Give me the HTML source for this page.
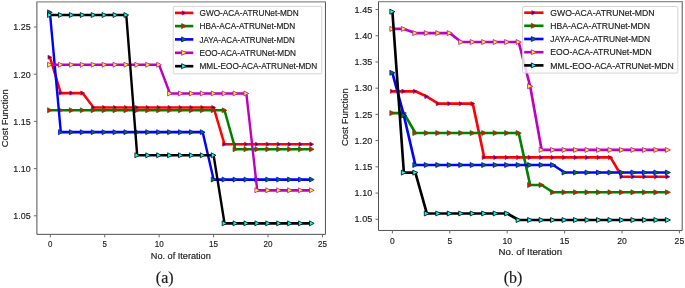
<!DOCTYPE html>
<html><head><meta charset="utf-8"><title>Cost function vs iteration</title>
<style>
html,body{margin:0;padding:0;background:#fff;}
body{width:685px;height:288px;overflow:hidden;}
svg{display:block}
svg text{font-family:"Liberation Sans",sans-serif;font-size:9.50px;fill:#1c1c1c;stroke:#1c1c1c;stroke-width:0.18px}
</style></head><body>
<svg width="685" height="288" viewBox="0 0 685 288">
<rect width="685" height="288" fill="#fff"/>
<g opacity="0.999">
<clipPath id="clip36"><rect x="36.90" y="1.85" width="288.55" height="232.50"/></clipPath>
<g clip-path="url(#clip36)"><g transform="scale(0.920,1)">
<polyline points="54.24,57.21 66.10,93.08 77.96,93.08 89.83,93.08 101.69,107.52 113.55,107.52 125.41,107.52 137.27,107.52 149.13,107.52 161.00,107.52 172.86,107.52 184.72,107.52 196.58,107.52 208.44,107.52 220.31,107.52 232.17,107.52 244.03,144.24 255.89,144.24 267.75,144.24 279.62,144.24 291.48,144.24 303.34,144.24 315.20,144.24 327.06,144.24 338.93,144.24" fill="none" stroke="#ff0000" stroke-width="2.65" stroke-linejoin="round" stroke-linecap="butt"/>
<path d="M52.20 55.21L56.28 57.21L52.20 59.21Z" fill="#0000ff" stroke="#ff0000" stroke-width="0.80" stroke-linejoin="miter"/>
<path d="M64.06 91.08L68.14 93.08L64.06 95.08Z" fill="#0000ff" stroke="#ff0000" stroke-width="0.80" stroke-linejoin="miter"/>
<path d="M75.92 91.08L80.00 93.08L75.92 95.08Z" fill="#0000ff" stroke="#ff0000" stroke-width="0.80" stroke-linejoin="miter"/>
<path d="M87.78 91.08L91.87 93.08L87.78 95.08Z" fill="#0000ff" stroke="#ff0000" stroke-width="0.80" stroke-linejoin="miter"/>
<path d="M99.65 105.52L103.73 107.52L99.65 109.52Z" fill="#0000ff" stroke="#ff0000" stroke-width="0.80" stroke-linejoin="miter"/>
<path d="M111.51 105.52L115.59 107.52L111.51 109.52Z" fill="#0000ff" stroke="#ff0000" stroke-width="0.80" stroke-linejoin="miter"/>
<path d="M123.37 105.52L127.45 107.52L123.37 109.52Z" fill="#0000ff" stroke="#ff0000" stroke-width="0.80" stroke-linejoin="miter"/>
<path d="M135.23 105.52L139.31 107.52L135.23 109.52Z" fill="#0000ff" stroke="#ff0000" stroke-width="0.80" stroke-linejoin="miter"/>
<path d="M147.09 105.52L151.17 107.52L147.09 109.52Z" fill="#0000ff" stroke="#ff0000" stroke-width="0.80" stroke-linejoin="miter"/>
<path d="M158.96 105.52L163.04 107.52L158.96 109.52Z" fill="#0000ff" stroke="#ff0000" stroke-width="0.80" stroke-linejoin="miter"/>
<path d="M170.82 105.52L174.90 107.52L170.82 109.52Z" fill="#0000ff" stroke="#ff0000" stroke-width="0.80" stroke-linejoin="miter"/>
<path d="M182.68 105.52L186.76 107.52L182.68 109.52Z" fill="#0000ff" stroke="#ff0000" stroke-width="0.80" stroke-linejoin="miter"/>
<path d="M194.54 105.52L198.62 107.52L194.54 109.52Z" fill="#0000ff" stroke="#ff0000" stroke-width="0.80" stroke-linejoin="miter"/>
<path d="M206.40 105.52L210.48 107.52L206.40 109.52Z" fill="#0000ff" stroke="#ff0000" stroke-width="0.80" stroke-linejoin="miter"/>
<path d="M218.27 105.52L222.35 107.52L218.27 109.52Z" fill="#0000ff" stroke="#ff0000" stroke-width="0.80" stroke-linejoin="miter"/>
<path d="M230.13 105.52L234.21 107.52L230.13 109.52Z" fill="#0000ff" stroke="#ff0000" stroke-width="0.80" stroke-linejoin="miter"/>
<path d="M241.99 142.24L246.07 144.24L241.99 146.24Z" fill="#0000ff" stroke="#ff0000" stroke-width="0.80" stroke-linejoin="miter"/>
<path d="M253.85 142.24L257.93 144.24L253.85 146.24Z" fill="#0000ff" stroke="#ff0000" stroke-width="0.80" stroke-linejoin="miter"/>
<path d="M265.71 142.24L269.79 144.24L265.71 146.24Z" fill="#0000ff" stroke="#ff0000" stroke-width="0.80" stroke-linejoin="miter"/>
<path d="M277.58 142.24L281.66 144.24L277.58 146.24Z" fill="#0000ff" stroke="#ff0000" stroke-width="0.80" stroke-linejoin="miter"/>
<path d="M289.44 142.24L293.52 144.24L289.44 146.24Z" fill="#0000ff" stroke="#ff0000" stroke-width="0.80" stroke-linejoin="miter"/>
<path d="M301.30 142.24L305.38 144.24L301.30 146.24Z" fill="#0000ff" stroke="#ff0000" stroke-width="0.80" stroke-linejoin="miter"/>
<path d="M313.16 142.24L317.24 144.24L313.16 146.24Z" fill="#0000ff" stroke="#ff0000" stroke-width="0.80" stroke-linejoin="miter"/>
<path d="M325.02 142.24L329.10 144.24L325.02 146.24Z" fill="#0000ff" stroke="#ff0000" stroke-width="0.80" stroke-linejoin="miter"/>
<path d="M336.89 142.24L340.97 144.24L336.89 146.24Z" fill="#0000ff" stroke="#ff0000" stroke-width="0.80" stroke-linejoin="miter"/>
<polyline points="54.24,110.26 66.10,110.26 77.96,110.26 89.83,110.26 101.69,110.26 113.55,110.26 125.41,110.26 137.27,110.26 149.13,110.26 161.00,110.26 172.86,110.26 184.72,110.26 196.58,110.26 208.44,110.26 220.31,110.26 232.17,110.26 244.03,110.26 255.89,149.25 267.75,149.25 279.62,149.25 291.48,149.25 303.34,149.25 315.20,149.25 327.06,149.25 338.93,149.25" fill="none" stroke="#008000" stroke-width="2.65" stroke-linejoin="round" stroke-linecap="butt"/>
<path d="M51.69 107.76L56.79 110.26L51.69 112.76Z" fill="#ff0000" stroke="#008000" stroke-width="0.80" stroke-linejoin="miter"/>
<path d="M63.55 107.76L68.65 110.26L63.55 112.76Z" fill="#ff0000" stroke="#008000" stroke-width="0.80" stroke-linejoin="miter"/>
<path d="M75.41 107.76L80.51 110.26L75.41 112.76Z" fill="#ff0000" stroke="#008000" stroke-width="0.80" stroke-linejoin="miter"/>
<path d="M87.28 107.76L92.38 110.26L87.28 112.76Z" fill="#ff0000" stroke="#008000" stroke-width="0.80" stroke-linejoin="miter"/>
<path d="M99.14 107.76L104.24 110.26L99.14 112.76Z" fill="#ff0000" stroke="#008000" stroke-width="0.80" stroke-linejoin="miter"/>
<path d="M111.00 107.76L116.10 110.26L111.00 112.76Z" fill="#ff0000" stroke="#008000" stroke-width="0.80" stroke-linejoin="miter"/>
<path d="M122.86 107.76L127.96 110.26L122.86 112.76Z" fill="#ff0000" stroke="#008000" stroke-width="0.80" stroke-linejoin="miter"/>
<path d="M134.72 107.76L139.82 110.26L134.72 112.76Z" fill="#ff0000" stroke="#008000" stroke-width="0.80" stroke-linejoin="miter"/>
<path d="M146.58 107.76L151.68 110.26L146.58 112.76Z" fill="#ff0000" stroke="#008000" stroke-width="0.80" stroke-linejoin="miter"/>
<path d="M158.45 107.76L163.55 110.26L158.45 112.76Z" fill="#ff0000" stroke="#008000" stroke-width="0.80" stroke-linejoin="miter"/>
<path d="M170.31 107.76L175.41 110.26L170.31 112.76Z" fill="#ff0000" stroke="#008000" stroke-width="0.80" stroke-linejoin="miter"/>
<path d="M182.17 107.76L187.27 110.26L182.17 112.76Z" fill="#ff0000" stroke="#008000" stroke-width="0.80" stroke-linejoin="miter"/>
<path d="M194.03 107.76L199.13 110.26L194.03 112.76Z" fill="#ff0000" stroke="#008000" stroke-width="0.80" stroke-linejoin="miter"/>
<path d="M205.89 107.76L210.99 110.26L205.89 112.76Z" fill="#ff0000" stroke="#008000" stroke-width="0.80" stroke-linejoin="miter"/>
<path d="M217.76 107.76L222.86 110.26L217.76 112.76Z" fill="#ff0000" stroke="#008000" stroke-width="0.80" stroke-linejoin="miter"/>
<path d="M229.62 107.76L234.72 110.26L229.62 112.76Z" fill="#ff0000" stroke="#008000" stroke-width="0.80" stroke-linejoin="miter"/>
<path d="M241.48 107.76L246.58 110.26L241.48 112.76Z" fill="#ff0000" stroke="#008000" stroke-width="0.80" stroke-linejoin="miter"/>
<path d="M253.34 146.75L258.44 149.25L253.34 151.75Z" fill="#ff0000" stroke="#008000" stroke-width="0.80" stroke-linejoin="miter"/>
<path d="M265.20 146.75L270.30 149.25L265.20 151.75Z" fill="#ff0000" stroke="#008000" stroke-width="0.80" stroke-linejoin="miter"/>
<path d="M277.07 146.75L282.17 149.25L277.07 151.75Z" fill="#ff0000" stroke="#008000" stroke-width="0.80" stroke-linejoin="miter"/>
<path d="M288.93 146.75L294.03 149.25L288.93 151.75Z" fill="#ff0000" stroke="#008000" stroke-width="0.80" stroke-linejoin="miter"/>
<path d="M300.79 146.75L305.89 149.25L300.79 151.75Z" fill="#ff0000" stroke="#008000" stroke-width="0.80" stroke-linejoin="miter"/>
<path d="M312.65 146.75L317.75 149.25L312.65 151.75Z" fill="#ff0000" stroke="#008000" stroke-width="0.80" stroke-linejoin="miter"/>
<path d="M324.51 146.75L329.61 149.25L324.51 151.75Z" fill="#ff0000" stroke="#008000" stroke-width="0.80" stroke-linejoin="miter"/>
<path d="M336.38 146.75L341.48 149.25L336.38 151.75Z" fill="#ff0000" stroke="#008000" stroke-width="0.80" stroke-linejoin="miter"/>
<polyline points="54.24,12.37 66.10,132.16 77.96,132.16 89.83,132.16 101.69,132.16 113.55,132.16 125.41,132.16 137.27,132.16 149.13,132.16 161.00,132.16 172.86,132.16 184.72,132.16 196.58,132.16 208.44,132.16 220.31,132.16 232.17,179.55 244.03,179.55 255.89,179.55 267.75,179.55 279.62,179.55 291.48,179.55 303.34,179.55 315.20,179.55 327.06,179.55 338.93,179.55" fill="none" stroke="#0000ff" stroke-width="2.65" stroke-linejoin="round" stroke-linecap="butt"/>
<path d="M51.69 9.87L56.79 12.37L51.69 14.87Z" fill="#008000" stroke="#0000ff" stroke-width="0.80" stroke-linejoin="miter"/>
<path d="M63.55 129.66L68.65 132.16L63.55 134.66Z" fill="#008000" stroke="#0000ff" stroke-width="0.80" stroke-linejoin="miter"/>
<path d="M75.41 129.66L80.51 132.16L75.41 134.66Z" fill="#008000" stroke="#0000ff" stroke-width="0.80" stroke-linejoin="miter"/>
<path d="M87.28 129.66L92.38 132.16L87.28 134.66Z" fill="#008000" stroke="#0000ff" stroke-width="0.80" stroke-linejoin="miter"/>
<path d="M99.14 129.66L104.24 132.16L99.14 134.66Z" fill="#008000" stroke="#0000ff" stroke-width="0.80" stroke-linejoin="miter"/>
<path d="M111.00 129.66L116.10 132.16L111.00 134.66Z" fill="#008000" stroke="#0000ff" stroke-width="0.80" stroke-linejoin="miter"/>
<path d="M122.86 129.66L127.96 132.16L122.86 134.66Z" fill="#008000" stroke="#0000ff" stroke-width="0.80" stroke-linejoin="miter"/>
<path d="M134.72 129.66L139.82 132.16L134.72 134.66Z" fill="#008000" stroke="#0000ff" stroke-width="0.80" stroke-linejoin="miter"/>
<path d="M146.58 129.66L151.68 132.16L146.58 134.66Z" fill="#008000" stroke="#0000ff" stroke-width="0.80" stroke-linejoin="miter"/>
<path d="M158.45 129.66L163.55 132.16L158.45 134.66Z" fill="#008000" stroke="#0000ff" stroke-width="0.80" stroke-linejoin="miter"/>
<path d="M170.31 129.66L175.41 132.16L170.31 134.66Z" fill="#008000" stroke="#0000ff" stroke-width="0.80" stroke-linejoin="miter"/>
<path d="M182.17 129.66L187.27 132.16L182.17 134.66Z" fill="#008000" stroke="#0000ff" stroke-width="0.80" stroke-linejoin="miter"/>
<path d="M194.03 129.66L199.13 132.16L194.03 134.66Z" fill="#008000" stroke="#0000ff" stroke-width="0.80" stroke-linejoin="miter"/>
<path d="M205.89 129.66L210.99 132.16L205.89 134.66Z" fill="#008000" stroke="#0000ff" stroke-width="0.80" stroke-linejoin="miter"/>
<path d="M217.76 129.66L222.86 132.16L217.76 134.66Z" fill="#008000" stroke="#0000ff" stroke-width="0.80" stroke-linejoin="miter"/>
<path d="M229.62 177.05L234.72 179.55L229.62 182.05Z" fill="#008000" stroke="#0000ff" stroke-width="0.80" stroke-linejoin="miter"/>
<path d="M241.48 177.05L246.58 179.55L241.48 182.05Z" fill="#008000" stroke="#0000ff" stroke-width="0.80" stroke-linejoin="miter"/>
<path d="M253.34 177.05L258.44 179.55L253.34 182.05Z" fill="#008000" stroke="#0000ff" stroke-width="0.80" stroke-linejoin="miter"/>
<path d="M265.20 177.05L270.30 179.55L265.20 182.05Z" fill="#008000" stroke="#0000ff" stroke-width="0.80" stroke-linejoin="miter"/>
<path d="M277.07 177.05L282.17 179.55L277.07 182.05Z" fill="#008000" stroke="#0000ff" stroke-width="0.80" stroke-linejoin="miter"/>
<path d="M288.93 177.05L294.03 179.55L288.93 182.05Z" fill="#008000" stroke="#0000ff" stroke-width="0.80" stroke-linejoin="miter"/>
<path d="M300.79 177.05L305.89 179.55L300.79 182.05Z" fill="#008000" stroke="#0000ff" stroke-width="0.80" stroke-linejoin="miter"/>
<path d="M312.65 177.05L317.75 179.55L312.65 182.05Z" fill="#008000" stroke="#0000ff" stroke-width="0.80" stroke-linejoin="miter"/>
<path d="M324.51 177.05L329.61 179.55L324.51 182.05Z" fill="#008000" stroke="#0000ff" stroke-width="0.80" stroke-linejoin="miter"/>
<path d="M336.38 177.05L341.48 179.55L336.38 182.05Z" fill="#008000" stroke="#0000ff" stroke-width="0.80" stroke-linejoin="miter"/>
<polyline points="54.24,64.76 66.10,64.76 77.96,64.76 89.83,64.76 101.69,64.76 113.55,64.76 125.41,64.76 137.27,64.76 149.13,64.76 161.00,64.76 172.86,64.76 184.72,93.46 196.58,93.46 208.44,93.46 220.31,93.46 232.17,93.46 244.03,93.46 255.89,93.46 267.75,93.46 279.62,190.31 291.48,190.31 303.34,190.31 315.20,190.31 327.06,190.31 338.93,190.31" fill="none" stroke="#bf00bf" stroke-width="2.65" stroke-linejoin="round" stroke-linecap="butt"/>
<path d="M51.69 62.26L56.79 64.76L51.69 67.26Z" fill="#ffff00" stroke="#bf00bf" stroke-width="0.80" stroke-linejoin="miter"/>
<path d="M63.55 62.26L68.65 64.76L63.55 67.26Z" fill="#ffff00" stroke="#bf00bf" stroke-width="0.80" stroke-linejoin="miter"/>
<path d="M75.41 62.26L80.51 64.76L75.41 67.26Z" fill="#ffff00" stroke="#bf00bf" stroke-width="0.80" stroke-linejoin="miter"/>
<path d="M87.28 62.26L92.38 64.76L87.28 67.26Z" fill="#ffff00" stroke="#bf00bf" stroke-width="0.80" stroke-linejoin="miter"/>
<path d="M99.14 62.26L104.24 64.76L99.14 67.26Z" fill="#ffff00" stroke="#bf00bf" stroke-width="0.80" stroke-linejoin="miter"/>
<path d="M111.00 62.26L116.10 64.76L111.00 67.26Z" fill="#ffff00" stroke="#bf00bf" stroke-width="0.80" stroke-linejoin="miter"/>
<path d="M122.86 62.26L127.96 64.76L122.86 67.26Z" fill="#ffff00" stroke="#bf00bf" stroke-width="0.80" stroke-linejoin="miter"/>
<path d="M134.72 62.26L139.82 64.76L134.72 67.26Z" fill="#ffff00" stroke="#bf00bf" stroke-width="0.80" stroke-linejoin="miter"/>
<path d="M146.58 62.26L151.68 64.76L146.58 67.26Z" fill="#ffff00" stroke="#bf00bf" stroke-width="0.80" stroke-linejoin="miter"/>
<path d="M158.45 62.26L163.55 64.76L158.45 67.26Z" fill="#ffff00" stroke="#bf00bf" stroke-width="0.80" stroke-linejoin="miter"/>
<path d="M170.31 62.26L175.41 64.76L170.31 67.26Z" fill="#ffff00" stroke="#bf00bf" stroke-width="0.80" stroke-linejoin="miter"/>
<path d="M182.17 90.96L187.27 93.46L182.17 95.96Z" fill="#ffff00" stroke="#bf00bf" stroke-width="0.80" stroke-linejoin="miter"/>
<path d="M194.03 90.96L199.13 93.46L194.03 95.96Z" fill="#ffff00" stroke="#bf00bf" stroke-width="0.80" stroke-linejoin="miter"/>
<path d="M205.89 90.96L210.99 93.46L205.89 95.96Z" fill="#ffff00" stroke="#bf00bf" stroke-width="0.80" stroke-linejoin="miter"/>
<path d="M217.76 90.96L222.86 93.46L217.76 95.96Z" fill="#ffff00" stroke="#bf00bf" stroke-width="0.80" stroke-linejoin="miter"/>
<path d="M229.62 90.96L234.72 93.46L229.62 95.96Z" fill="#ffff00" stroke="#bf00bf" stroke-width="0.80" stroke-linejoin="miter"/>
<path d="M241.48 90.96L246.58 93.46L241.48 95.96Z" fill="#ffff00" stroke="#bf00bf" stroke-width="0.80" stroke-linejoin="miter"/>
<path d="M253.34 90.96L258.44 93.46L253.34 95.96Z" fill="#ffff00" stroke="#bf00bf" stroke-width="0.80" stroke-linejoin="miter"/>
<path d="M265.20 90.96L270.30 93.46L265.20 95.96Z" fill="#ffff00" stroke="#bf00bf" stroke-width="0.80" stroke-linejoin="miter"/>
<path d="M277.07 187.81L282.17 190.31L277.07 192.81Z" fill="#ffff00" stroke="#bf00bf" stroke-width="0.80" stroke-linejoin="miter"/>
<path d="M288.93 187.81L294.03 190.31L288.93 192.81Z" fill="#ffff00" stroke="#bf00bf" stroke-width="0.80" stroke-linejoin="miter"/>
<path d="M300.79 187.81L305.89 190.31L300.79 192.81Z" fill="#ffff00" stroke="#bf00bf" stroke-width="0.80" stroke-linejoin="miter"/>
<path d="M312.65 187.81L317.75 190.31L312.65 192.81Z" fill="#ffff00" stroke="#bf00bf" stroke-width="0.80" stroke-linejoin="miter"/>
<path d="M324.51 187.81L329.61 190.31L324.51 192.81Z" fill="#ffff00" stroke="#bf00bf" stroke-width="0.80" stroke-linejoin="miter"/>
<path d="M336.38 187.81L341.48 190.31L336.38 192.81Z" fill="#ffff00" stroke="#bf00bf" stroke-width="0.80" stroke-linejoin="miter"/>
<polyline points="54.24,15.01 66.10,15.01 77.96,15.01 89.83,15.01 101.69,15.01 113.55,15.01 125.41,15.01 137.27,15.01 149.13,155.29 161.00,155.29 172.86,155.29 184.72,155.29 196.58,155.29 208.44,155.29 220.31,155.29 232.17,155.29 244.03,223.35 255.89,223.35 267.75,223.35 279.62,223.35 291.48,223.35 303.34,223.35 315.20,223.35 327.06,223.35 338.93,223.35" fill="none" stroke="#000000" stroke-width="2.65" stroke-linejoin="round" stroke-linecap="butt"/>
<path d="M51.69 12.51L56.79 15.01L51.69 17.51Z" fill="#00ffff" stroke="#000000" stroke-width="0.80" stroke-linejoin="miter"/>
<path d="M63.55 12.51L68.65 15.01L63.55 17.51Z" fill="#00ffff" stroke="#000000" stroke-width="0.80" stroke-linejoin="miter"/>
<path d="M75.41 12.51L80.51 15.01L75.41 17.51Z" fill="#00ffff" stroke="#000000" stroke-width="0.80" stroke-linejoin="miter"/>
<path d="M87.28 12.51L92.38 15.01L87.28 17.51Z" fill="#00ffff" stroke="#000000" stroke-width="0.80" stroke-linejoin="miter"/>
<path d="M99.14 12.51L104.24 15.01L99.14 17.51Z" fill="#00ffff" stroke="#000000" stroke-width="0.80" stroke-linejoin="miter"/>
<path d="M111.00 12.51L116.10 15.01L111.00 17.51Z" fill="#00ffff" stroke="#000000" stroke-width="0.80" stroke-linejoin="miter"/>
<path d="M122.86 12.51L127.96 15.01L122.86 17.51Z" fill="#00ffff" stroke="#000000" stroke-width="0.80" stroke-linejoin="miter"/>
<path d="M134.72 12.51L139.82 15.01L134.72 17.51Z" fill="#00ffff" stroke="#000000" stroke-width="0.80" stroke-linejoin="miter"/>
<path d="M146.58 152.79L151.68 155.29L146.58 157.79Z" fill="#00ffff" stroke="#000000" stroke-width="0.80" stroke-linejoin="miter"/>
<path d="M158.45 152.79L163.55 155.29L158.45 157.79Z" fill="#00ffff" stroke="#000000" stroke-width="0.80" stroke-linejoin="miter"/>
<path d="M170.31 152.79L175.41 155.29L170.31 157.79Z" fill="#00ffff" stroke="#000000" stroke-width="0.80" stroke-linejoin="miter"/>
<path d="M182.17 152.79L187.27 155.29L182.17 157.79Z" fill="#00ffff" stroke="#000000" stroke-width="0.80" stroke-linejoin="miter"/>
<path d="M194.03 152.79L199.13 155.29L194.03 157.79Z" fill="#00ffff" stroke="#000000" stroke-width="0.80" stroke-linejoin="miter"/>
<path d="M205.89 152.79L210.99 155.29L205.89 157.79Z" fill="#00ffff" stroke="#000000" stroke-width="0.80" stroke-linejoin="miter"/>
<path d="M217.76 152.79L222.86 155.29L217.76 157.79Z" fill="#00ffff" stroke="#000000" stroke-width="0.80" stroke-linejoin="miter"/>
<path d="M229.62 152.79L234.72 155.29L229.62 157.79Z" fill="#00ffff" stroke="#000000" stroke-width="0.80" stroke-linejoin="miter"/>
<path d="M241.48 220.85L246.58 223.35L241.48 225.85Z" fill="#00ffff" stroke="#000000" stroke-width="0.80" stroke-linejoin="miter"/>
<path d="M253.34 220.85L258.44 223.35L253.34 225.85Z" fill="#00ffff" stroke="#000000" stroke-width="0.80" stroke-linejoin="miter"/>
<path d="M265.20 220.85L270.30 223.35L265.20 225.85Z" fill="#00ffff" stroke="#000000" stroke-width="0.80" stroke-linejoin="miter"/>
<path d="M277.07 220.85L282.17 223.35L277.07 225.85Z" fill="#00ffff" stroke="#000000" stroke-width="0.80" stroke-linejoin="miter"/>
<path d="M288.93 220.85L294.03 223.35L288.93 225.85Z" fill="#00ffff" stroke="#000000" stroke-width="0.80" stroke-linejoin="miter"/>
<path d="M300.79 220.85L305.89 223.35L300.79 225.85Z" fill="#00ffff" stroke="#000000" stroke-width="0.80" stroke-linejoin="miter"/>
<path d="M312.65 220.85L317.75 223.35L312.65 225.85Z" fill="#00ffff" stroke="#000000" stroke-width="0.80" stroke-linejoin="miter"/>
<path d="M324.51 220.85L329.61 223.35L324.51 225.85Z" fill="#00ffff" stroke="#000000" stroke-width="0.80" stroke-linejoin="miter"/>
<path d="M336.38 220.85L341.48 223.35L336.38 225.85Z" fill="#00ffff" stroke="#000000" stroke-width="0.80" stroke-linejoin="miter"/>
</g></g>
<path d="M36.90 1.85V234.35H325.45V1.85" fill="none" stroke="#505050" stroke-width="1"/>
<path d="M36.40 1.85H325.95" fill="none" stroke="#8c8c8c" stroke-width="1.3"/>
<path d="M36.90 215.80h-3" stroke="#6a6a6a" stroke-width="1"/>
<text x="30.60" y="219.10" text-anchor="end" textLength="17.30" lengthAdjust="spacingAndGlyphs">1.05</text>
<path d="M36.90 168.60h-3" stroke="#6a6a6a" stroke-width="1"/>
<text x="30.60" y="171.90" text-anchor="end" textLength="17.30" lengthAdjust="spacingAndGlyphs">1.10</text>
<path d="M36.90 121.40h-3" stroke="#6a6a6a" stroke-width="1"/>
<text x="30.60" y="124.70" text-anchor="end" textLength="17.30" lengthAdjust="spacingAndGlyphs">1.15</text>
<path d="M36.90 74.20h-3" stroke="#6a6a6a" stroke-width="1"/>
<text x="30.60" y="77.50" text-anchor="end" textLength="17.30" lengthAdjust="spacingAndGlyphs">1.20</text>
<path d="M36.90 27.00h-3" stroke="#6a6a6a" stroke-width="1"/>
<text x="30.60" y="30.30" text-anchor="end" textLength="17.30" lengthAdjust="spacingAndGlyphs">1.25</text>
<path d="M50.30 234.35v3" stroke="#6a6a6a" stroke-width="1"/>
<text x="50.30" y="247.20" text-anchor="middle" textLength="4.40" lengthAdjust="spacingAndGlyphs">0</text>
<path d="M104.72 234.35v3" stroke="#6a6a6a" stroke-width="1"/>
<text x="104.72" y="247.20" text-anchor="middle" textLength="4.40" lengthAdjust="spacingAndGlyphs">5</text>
<path d="M159.15 234.35v3" stroke="#6a6a6a" stroke-width="1"/>
<text x="159.15" y="247.20" text-anchor="middle" textLength="9.00" lengthAdjust="spacingAndGlyphs">10</text>
<path d="M213.57 234.35v3" stroke="#6a6a6a" stroke-width="1"/>
<text x="213.57" y="247.20" text-anchor="middle" textLength="9.00" lengthAdjust="spacingAndGlyphs">15</text>
<path d="M268.00 234.35v3" stroke="#6a6a6a" stroke-width="1"/>
<text x="268.00" y="247.20" text-anchor="middle" textLength="9.00" lengthAdjust="spacingAndGlyphs">20</text>
<path d="M322.43 234.35v3" stroke="#6a6a6a" stroke-width="1"/>
<text x="322.43" y="247.20" text-anchor="middle" textLength="9.00" lengthAdjust="spacingAndGlyphs">25</text>
<text x="180.80" y="259.00" text-anchor="middle" textLength="60.00" lengthAdjust="spacingAndGlyphs">No. of Iteration</text>
<text transform="translate(7.60 118.30) rotate(-90)" text-anchor="middle" textLength="58.00" lengthAdjust="spacingAndGlyphs">Cost Function</text>
<text x="164.70" y="283.10" text-anchor="middle" style="font-family:'Liberation Serif',serif;font-size:16px" fill="#111">(a)</text>
<rect x="173.20" y="6.40" width="148.60" height="67.40" rx="1.6" fill="#fff" fill-opacity="0.8" stroke="#cfcfcf" stroke-width="0.9"/>
<path d="M175.00 12.90H193.30" stroke="#ff0000" stroke-width="2.65"/>
<path d="M182.11 10.90L186.19 12.90L182.11 14.90Z" fill="#0000ff" stroke="#ff0000" stroke-width="0.80" stroke-linejoin="miter"/>
<text x="199.50" y="16.00" textLength="99.25" lengthAdjust="spacingAndGlyphs">GWO-ACA-ATRUNet-MDN</text>
<path d="M175.00 26.10H193.30" stroke="#008000" stroke-width="2.65"/>
<path d="M181.60 23.60L186.70 26.10L181.60 28.60Z" fill="#ff0000" stroke="#008000" stroke-width="0.80" stroke-linejoin="miter"/>
<text x="199.50" y="29.20" textLength="95.75" lengthAdjust="spacingAndGlyphs">HBA-ACA-ATRUNet-MDN</text>
<path d="M175.00 39.40H193.30" stroke="#0000ff" stroke-width="2.65"/>
<path d="M181.60 36.90L186.70 39.40L181.60 41.90Z" fill="#008000" stroke="#0000ff" stroke-width="0.80" stroke-linejoin="miter"/>
<text x="199.50" y="42.50" textLength="95.25" lengthAdjust="spacingAndGlyphs">JAYA-ACA-ATRUNet-MDN</text>
<path d="M175.00 52.80H193.30" stroke="#bf00bf" stroke-width="2.65"/>
<path d="M181.60 50.30L186.70 52.80L181.60 55.30Z" fill="#ffff00" stroke="#bf00bf" stroke-width="0.80" stroke-linejoin="miter"/>
<text x="199.50" y="55.90" textLength="96.50" lengthAdjust="spacingAndGlyphs">EOO-ACA-ATRUNet-MDN</text>
<path d="M175.00 66.20H193.30" stroke="#000000" stroke-width="2.65"/>
<path d="M181.60 63.70L186.70 66.20L181.60 68.70Z" fill="#00ffff" stroke="#000000" stroke-width="0.80" stroke-linejoin="miter"/>
<text x="199.50" y="69.30" textLength="117.75" lengthAdjust="spacingAndGlyphs">MML-EOO-ACA-ATRUNet-MDN</text>
<clipPath id="clip378"><rect x="378.50" y="1.70" width="303.70" height="228.75"/></clipPath>
<g clip-path="url(#clip378)"><g transform="scale(1.000,1)">
<polyline points="392.40,91.32 403.88,91.32 415.36,91.32 426.84,96.57 438.32,103.65 449.80,103.65 461.28,103.65 472.76,103.65 484.24,157.41 495.72,157.41 507.20,157.41 518.68,157.41 530.16,157.41 541.64,157.41 553.12,157.41 564.60,157.41 576.08,157.41 587.56,157.41 599.04,157.41 610.52,157.41 622.00,176.71 633.48,176.71 644.96,176.71 656.44,176.71 667.92,176.71" fill="none" stroke="#ff0000" stroke-width="2.65" stroke-linejoin="round" stroke-linecap="butt"/>
<path d="M390.36 89.32L394.44 91.32L390.36 93.32Z" fill="#0000ff" stroke="#ff0000" stroke-width="0.80" stroke-linejoin="miter"/>
<path d="M401.84 89.32L405.92 91.32L401.84 93.32Z" fill="#0000ff" stroke="#ff0000" stroke-width="0.80" stroke-linejoin="miter"/>
<path d="M413.32 89.32L417.40 91.32L413.32 93.32Z" fill="#0000ff" stroke="#ff0000" stroke-width="0.80" stroke-linejoin="miter"/>
<path d="M424.80 94.57L428.88 96.57L424.80 98.57Z" fill="#0000ff" stroke="#ff0000" stroke-width="0.80" stroke-linejoin="miter"/>
<path d="M436.28 101.65L440.36 103.65L436.28 105.65Z" fill="#0000ff" stroke="#ff0000" stroke-width="0.80" stroke-linejoin="miter"/>
<path d="M447.76 101.65L451.84 103.65L447.76 105.65Z" fill="#0000ff" stroke="#ff0000" stroke-width="0.80" stroke-linejoin="miter"/>
<path d="M459.24 101.65L463.32 103.65L459.24 105.65Z" fill="#0000ff" stroke="#ff0000" stroke-width="0.80" stroke-linejoin="miter"/>
<path d="M470.72 101.65L474.80 103.65L470.72 105.65Z" fill="#0000ff" stroke="#ff0000" stroke-width="0.80" stroke-linejoin="miter"/>
<path d="M482.20 155.41L486.28 157.41L482.20 159.41Z" fill="#0000ff" stroke="#ff0000" stroke-width="0.80" stroke-linejoin="miter"/>
<path d="M493.68 155.41L497.76 157.41L493.68 159.41Z" fill="#0000ff" stroke="#ff0000" stroke-width="0.80" stroke-linejoin="miter"/>
<path d="M505.16 155.41L509.24 157.41L505.16 159.41Z" fill="#0000ff" stroke="#ff0000" stroke-width="0.80" stroke-linejoin="miter"/>
<path d="M516.64 155.41L520.72 157.41L516.64 159.41Z" fill="#0000ff" stroke="#ff0000" stroke-width="0.80" stroke-linejoin="miter"/>
<path d="M528.12 155.41L532.20 157.41L528.12 159.41Z" fill="#0000ff" stroke="#ff0000" stroke-width="0.80" stroke-linejoin="miter"/>
<path d="M539.60 155.41L543.68 157.41L539.60 159.41Z" fill="#0000ff" stroke="#ff0000" stroke-width="0.80" stroke-linejoin="miter"/>
<path d="M551.08 155.41L555.16 157.41L551.08 159.41Z" fill="#0000ff" stroke="#ff0000" stroke-width="0.80" stroke-linejoin="miter"/>
<path d="M562.56 155.41L566.64 157.41L562.56 159.41Z" fill="#0000ff" stroke="#ff0000" stroke-width="0.80" stroke-linejoin="miter"/>
<path d="M574.04 155.41L578.12 157.41L574.04 159.41Z" fill="#0000ff" stroke="#ff0000" stroke-width="0.80" stroke-linejoin="miter"/>
<path d="M585.52 155.41L589.60 157.41L585.52 159.41Z" fill="#0000ff" stroke="#ff0000" stroke-width="0.80" stroke-linejoin="miter"/>
<path d="M597.00 155.41L601.08 157.41L597.00 159.41Z" fill="#0000ff" stroke="#ff0000" stroke-width="0.80" stroke-linejoin="miter"/>
<path d="M608.48 155.41L612.56 157.41L608.48 159.41Z" fill="#0000ff" stroke="#ff0000" stroke-width="0.80" stroke-linejoin="miter"/>
<path d="M619.96 174.71L624.04 176.71L619.96 178.71Z" fill="#0000ff" stroke="#ff0000" stroke-width="0.80" stroke-linejoin="miter"/>
<path d="M631.44 174.71L635.52 176.71L631.44 178.71Z" fill="#0000ff" stroke="#ff0000" stroke-width="0.80" stroke-linejoin="miter"/>
<path d="M642.92 174.71L647.00 176.71L642.92 178.71Z" fill="#0000ff" stroke="#ff0000" stroke-width="0.80" stroke-linejoin="miter"/>
<path d="M654.40 174.71L658.48 176.71L654.40 178.71Z" fill="#0000ff" stroke="#ff0000" stroke-width="0.80" stroke-linejoin="miter"/>
<path d="M665.88 174.71L669.96 176.71L665.88 178.71Z" fill="#0000ff" stroke="#ff0000" stroke-width="0.80" stroke-linejoin="miter"/>
<polyline points="392.40,113.09 403.88,113.09 415.36,133.02 426.84,133.02 438.32,133.02 449.80,133.02 461.28,133.02 472.76,133.02 484.24,133.02 495.72,133.02 507.20,133.02 518.68,133.02 530.16,185.00 541.64,185.00 553.12,192.29 564.60,192.29 576.08,192.29 587.56,192.29 599.04,192.29 610.52,192.29 622.00,192.29 633.48,192.29 644.96,192.29 656.44,192.29 667.92,192.29" fill="none" stroke="#008000" stroke-width="2.65" stroke-linejoin="round" stroke-linecap="butt"/>
<path d="M389.85 110.59L394.95 113.09L389.85 115.59Z" fill="#ff0000" stroke="#008000" stroke-width="0.80" stroke-linejoin="miter"/>
<path d="M401.33 110.59L406.43 113.09L401.33 115.59Z" fill="#ff0000" stroke="#008000" stroke-width="0.80" stroke-linejoin="miter"/>
<path d="M412.81 130.52L417.91 133.02L412.81 135.52Z" fill="#ff0000" stroke="#008000" stroke-width="0.80" stroke-linejoin="miter"/>
<path d="M424.29 130.52L429.39 133.02L424.29 135.52Z" fill="#ff0000" stroke="#008000" stroke-width="0.80" stroke-linejoin="miter"/>
<path d="M435.77 130.52L440.87 133.02L435.77 135.52Z" fill="#ff0000" stroke="#008000" stroke-width="0.80" stroke-linejoin="miter"/>
<path d="M447.25 130.52L452.35 133.02L447.25 135.52Z" fill="#ff0000" stroke="#008000" stroke-width="0.80" stroke-linejoin="miter"/>
<path d="M458.73 130.52L463.83 133.02L458.73 135.52Z" fill="#ff0000" stroke="#008000" stroke-width="0.80" stroke-linejoin="miter"/>
<path d="M470.21 130.52L475.31 133.02L470.21 135.52Z" fill="#ff0000" stroke="#008000" stroke-width="0.80" stroke-linejoin="miter"/>
<path d="M481.69 130.52L486.79 133.02L481.69 135.52Z" fill="#ff0000" stroke="#008000" stroke-width="0.80" stroke-linejoin="miter"/>
<path d="M493.17 130.52L498.27 133.02L493.17 135.52Z" fill="#ff0000" stroke="#008000" stroke-width="0.80" stroke-linejoin="miter"/>
<path d="M504.65 130.52L509.75 133.02L504.65 135.52Z" fill="#ff0000" stroke="#008000" stroke-width="0.80" stroke-linejoin="miter"/>
<path d="M516.13 130.52L521.23 133.02L516.13 135.52Z" fill="#ff0000" stroke="#008000" stroke-width="0.80" stroke-linejoin="miter"/>
<path d="M527.61 182.50L532.71 185.00L527.61 187.50Z" fill="#ff0000" stroke="#008000" stroke-width="0.80" stroke-linejoin="miter"/>
<path d="M539.09 182.50L544.19 185.00L539.09 187.50Z" fill="#ff0000" stroke="#008000" stroke-width="0.80" stroke-linejoin="miter"/>
<path d="M550.57 189.79L555.67 192.29L550.57 194.79Z" fill="#ff0000" stroke="#008000" stroke-width="0.80" stroke-linejoin="miter"/>
<path d="M562.05 189.79L567.15 192.29L562.05 194.79Z" fill="#ff0000" stroke="#008000" stroke-width="0.80" stroke-linejoin="miter"/>
<path d="M573.53 189.79L578.63 192.29L573.53 194.79Z" fill="#ff0000" stroke="#008000" stroke-width="0.80" stroke-linejoin="miter"/>
<path d="M585.01 189.79L590.11 192.29L585.01 194.79Z" fill="#ff0000" stroke="#008000" stroke-width="0.80" stroke-linejoin="miter"/>
<path d="M596.49 189.79L601.59 192.29L596.49 194.79Z" fill="#ff0000" stroke="#008000" stroke-width="0.80" stroke-linejoin="miter"/>
<path d="M607.97 189.79L613.07 192.29L607.97 194.79Z" fill="#ff0000" stroke="#008000" stroke-width="0.80" stroke-linejoin="miter"/>
<path d="M619.45 189.79L624.55 192.29L619.45 194.79Z" fill="#ff0000" stroke="#008000" stroke-width="0.80" stroke-linejoin="miter"/>
<path d="M630.93 189.79L636.03 192.29L630.93 194.79Z" fill="#ff0000" stroke="#008000" stroke-width="0.80" stroke-linejoin="miter"/>
<path d="M642.41 189.79L647.51 192.29L642.41 194.79Z" fill="#ff0000" stroke="#008000" stroke-width="0.80" stroke-linejoin="miter"/>
<path d="M653.89 189.79L658.99 192.29L653.89 194.79Z" fill="#ff0000" stroke="#008000" stroke-width="0.80" stroke-linejoin="miter"/>
<path d="M665.37 189.79L670.47 192.29L665.37 194.79Z" fill="#ff0000" stroke="#008000" stroke-width="0.80" stroke-linejoin="miter"/>
<polyline points="392.40,72.81 403.88,115.45 415.36,165.01 426.84,165.01 438.32,165.01 449.80,165.01 461.28,165.01 472.76,165.01 484.24,165.01 495.72,165.01 507.20,165.01 518.68,165.01 530.16,165.01 541.64,165.01 553.12,165.01 564.60,172.51 576.08,172.51 587.56,172.51 599.04,172.51 610.52,172.51 622.00,172.51 633.48,172.51 644.96,172.51 656.44,172.51 667.92,172.51" fill="none" stroke="#0000ff" stroke-width="2.65" stroke-linejoin="round" stroke-linecap="butt"/>
<path d="M389.85 70.31L394.95 72.81L389.85 75.31Z" fill="#008000" stroke="#0000ff" stroke-width="0.80" stroke-linejoin="miter"/>
<path d="M401.33 112.95L406.43 115.45L401.33 117.95Z" fill="#008000" stroke="#0000ff" stroke-width="0.80" stroke-linejoin="miter"/>
<path d="M412.81 162.51L417.91 165.01L412.81 167.51Z" fill="#008000" stroke="#0000ff" stroke-width="0.80" stroke-linejoin="miter"/>
<path d="M424.29 162.51L429.39 165.01L424.29 167.51Z" fill="#008000" stroke="#0000ff" stroke-width="0.80" stroke-linejoin="miter"/>
<path d="M435.77 162.51L440.87 165.01L435.77 167.51Z" fill="#008000" stroke="#0000ff" stroke-width="0.80" stroke-linejoin="miter"/>
<path d="M447.25 162.51L452.35 165.01L447.25 167.51Z" fill="#008000" stroke="#0000ff" stroke-width="0.80" stroke-linejoin="miter"/>
<path d="M458.73 162.51L463.83 165.01L458.73 167.51Z" fill="#008000" stroke="#0000ff" stroke-width="0.80" stroke-linejoin="miter"/>
<path d="M470.21 162.51L475.31 165.01L470.21 167.51Z" fill="#008000" stroke="#0000ff" stroke-width="0.80" stroke-linejoin="miter"/>
<path d="M481.69 162.51L486.79 165.01L481.69 167.51Z" fill="#008000" stroke="#0000ff" stroke-width="0.80" stroke-linejoin="miter"/>
<path d="M493.17 162.51L498.27 165.01L493.17 167.51Z" fill="#008000" stroke="#0000ff" stroke-width="0.80" stroke-linejoin="miter"/>
<path d="M504.65 162.51L509.75 165.01L504.65 167.51Z" fill="#008000" stroke="#0000ff" stroke-width="0.80" stroke-linejoin="miter"/>
<path d="M516.13 162.51L521.23 165.01L516.13 167.51Z" fill="#008000" stroke="#0000ff" stroke-width="0.80" stroke-linejoin="miter"/>
<path d="M527.61 162.51L532.71 165.01L527.61 167.51Z" fill="#008000" stroke="#0000ff" stroke-width="0.80" stroke-linejoin="miter"/>
<path d="M539.09 162.51L544.19 165.01L539.09 167.51Z" fill="#008000" stroke="#0000ff" stroke-width="0.80" stroke-linejoin="miter"/>
<path d="M550.57 162.51L555.67 165.01L550.57 167.51Z" fill="#008000" stroke="#0000ff" stroke-width="0.80" stroke-linejoin="miter"/>
<path d="M562.05 170.01L567.15 172.51L562.05 175.01Z" fill="#008000" stroke="#0000ff" stroke-width="0.80" stroke-linejoin="miter"/>
<path d="M573.53 170.01L578.63 172.51L573.53 175.01Z" fill="#008000" stroke="#0000ff" stroke-width="0.80" stroke-linejoin="miter"/>
<path d="M585.01 170.01L590.11 172.51L585.01 175.01Z" fill="#008000" stroke="#0000ff" stroke-width="0.80" stroke-linejoin="miter"/>
<path d="M596.49 170.01L601.59 172.51L596.49 175.01Z" fill="#008000" stroke="#0000ff" stroke-width="0.80" stroke-linejoin="miter"/>
<path d="M607.97 170.01L613.07 172.51L607.97 175.01Z" fill="#008000" stroke="#0000ff" stroke-width="0.80" stroke-linejoin="miter"/>
<path d="M619.45 170.01L624.55 172.51L619.45 175.01Z" fill="#008000" stroke="#0000ff" stroke-width="0.80" stroke-linejoin="miter"/>
<path d="M630.93 170.01L636.03 172.51L630.93 175.01Z" fill="#008000" stroke="#0000ff" stroke-width="0.80" stroke-linejoin="miter"/>
<path d="M642.41 170.01L647.51 172.51L642.41 175.01Z" fill="#008000" stroke="#0000ff" stroke-width="0.80" stroke-linejoin="miter"/>
<path d="M653.89 170.01L658.99 172.51L653.89 175.01Z" fill="#008000" stroke="#0000ff" stroke-width="0.80" stroke-linejoin="miter"/>
<path d="M665.37 170.01L670.47 172.51L665.37 175.01Z" fill="#008000" stroke="#0000ff" stroke-width="0.80" stroke-linejoin="miter"/>
<polyline points="392.40,28.91 403.88,28.91 415.36,33.10 426.84,33.10 438.32,33.10 449.80,33.10 461.28,42.02 472.76,42.02 484.24,42.02 495.72,42.02 507.20,42.02 518.68,42.02 530.16,86.23 541.64,149.91 553.12,149.91 564.60,149.91 576.08,149.91 587.56,149.91 599.04,149.91 610.52,149.91 622.00,149.91 633.48,149.91 644.96,149.91 656.44,149.91 667.92,149.91" fill="none" stroke="#bf00bf" stroke-width="2.65" stroke-linejoin="round" stroke-linecap="butt"/>
<path d="M389.85 26.41L394.95 28.91L389.85 31.41Z" fill="#ffff00" stroke="#bf00bf" stroke-width="0.80" stroke-linejoin="miter"/>
<path d="M401.33 26.41L406.43 28.91L401.33 31.41Z" fill="#ffff00" stroke="#bf00bf" stroke-width="0.80" stroke-linejoin="miter"/>
<path d="M412.81 30.60L417.91 33.10L412.81 35.60Z" fill="#ffff00" stroke="#bf00bf" stroke-width="0.80" stroke-linejoin="miter"/>
<path d="M424.29 30.60L429.39 33.10L424.29 35.60Z" fill="#ffff00" stroke="#bf00bf" stroke-width="0.80" stroke-linejoin="miter"/>
<path d="M435.77 30.60L440.87 33.10L435.77 35.60Z" fill="#ffff00" stroke="#bf00bf" stroke-width="0.80" stroke-linejoin="miter"/>
<path d="M447.25 30.60L452.35 33.10L447.25 35.60Z" fill="#ffff00" stroke="#bf00bf" stroke-width="0.80" stroke-linejoin="miter"/>
<path d="M458.73 39.52L463.83 42.02L458.73 44.52Z" fill="#ffff00" stroke="#bf00bf" stroke-width="0.80" stroke-linejoin="miter"/>
<path d="M470.21 39.52L475.31 42.02L470.21 44.52Z" fill="#ffff00" stroke="#bf00bf" stroke-width="0.80" stroke-linejoin="miter"/>
<path d="M481.69 39.52L486.79 42.02L481.69 44.52Z" fill="#ffff00" stroke="#bf00bf" stroke-width="0.80" stroke-linejoin="miter"/>
<path d="M493.17 39.52L498.27 42.02L493.17 44.52Z" fill="#ffff00" stroke="#bf00bf" stroke-width="0.80" stroke-linejoin="miter"/>
<path d="M504.65 39.52L509.75 42.02L504.65 44.52Z" fill="#ffff00" stroke="#bf00bf" stroke-width="0.80" stroke-linejoin="miter"/>
<path d="M516.13 39.52L521.23 42.02L516.13 44.52Z" fill="#ffff00" stroke="#bf00bf" stroke-width="0.80" stroke-linejoin="miter"/>
<path d="M527.61 83.73L532.71 86.23L527.61 88.73Z" fill="#ffff00" stroke="#bf00bf" stroke-width="0.80" stroke-linejoin="miter"/>
<path d="M539.09 147.41L544.19 149.91L539.09 152.41Z" fill="#ffff00" stroke="#bf00bf" stroke-width="0.80" stroke-linejoin="miter"/>
<path d="M550.57 147.41L555.67 149.91L550.57 152.41Z" fill="#ffff00" stroke="#bf00bf" stroke-width="0.80" stroke-linejoin="miter"/>
<path d="M562.05 147.41L567.15 149.91L562.05 152.41Z" fill="#ffff00" stroke="#bf00bf" stroke-width="0.80" stroke-linejoin="miter"/>
<path d="M573.53 147.41L578.63 149.91L573.53 152.41Z" fill="#ffff00" stroke="#bf00bf" stroke-width="0.80" stroke-linejoin="miter"/>
<path d="M585.01 147.41L590.11 149.91L585.01 152.41Z" fill="#ffff00" stroke="#bf00bf" stroke-width="0.80" stroke-linejoin="miter"/>
<path d="M596.49 147.41L601.59 149.91L596.49 152.41Z" fill="#ffff00" stroke="#bf00bf" stroke-width="0.80" stroke-linejoin="miter"/>
<path d="M607.97 147.41L613.07 149.91L607.97 152.41Z" fill="#ffff00" stroke="#bf00bf" stroke-width="0.80" stroke-linejoin="miter"/>
<path d="M619.45 147.41L624.55 149.91L619.45 152.41Z" fill="#ffff00" stroke="#bf00bf" stroke-width="0.80" stroke-linejoin="miter"/>
<path d="M630.93 147.41L636.03 149.91L630.93 152.41Z" fill="#ffff00" stroke="#bf00bf" stroke-width="0.80" stroke-linejoin="miter"/>
<path d="M642.41 147.41L647.51 149.91L642.41 152.41Z" fill="#ffff00" stroke="#bf00bf" stroke-width="0.80" stroke-linejoin="miter"/>
<path d="M653.89 147.41L658.99 149.91L653.89 152.41Z" fill="#ffff00" stroke="#bf00bf" stroke-width="0.80" stroke-linejoin="miter"/>
<path d="M665.37 147.41L670.47 149.91L665.37 152.41Z" fill="#ffff00" stroke="#bf00bf" stroke-width="0.80" stroke-linejoin="miter"/>
<polyline points="392.40,11.70 403.88,172.62 415.36,172.62 426.84,213.48 438.32,213.48 449.80,213.48 461.28,213.48 472.76,213.48 484.24,213.48 495.72,213.48 507.20,213.48 518.68,219.98 530.16,219.98 541.64,219.98 553.12,219.98 564.60,219.98 576.08,219.98 587.56,219.98 599.04,219.98 610.52,219.98 622.00,219.98 633.48,219.98 644.96,219.98 656.44,219.98 667.92,219.98" fill="none" stroke="#000000" stroke-width="2.65" stroke-linejoin="round" stroke-linecap="butt"/>
<path d="M389.85 9.20L394.95 11.70L389.85 14.20Z" fill="#00ffff" stroke="#000000" stroke-width="0.80" stroke-linejoin="miter"/>
<path d="M401.33 170.12L406.43 172.62L401.33 175.12Z" fill="#00ffff" stroke="#000000" stroke-width="0.80" stroke-linejoin="miter"/>
<path d="M412.81 170.12L417.91 172.62L412.81 175.12Z" fill="#00ffff" stroke="#000000" stroke-width="0.80" stroke-linejoin="miter"/>
<path d="M424.29 210.98L429.39 213.48L424.29 215.98Z" fill="#00ffff" stroke="#000000" stroke-width="0.80" stroke-linejoin="miter"/>
<path d="M435.77 210.98L440.87 213.48L435.77 215.98Z" fill="#00ffff" stroke="#000000" stroke-width="0.80" stroke-linejoin="miter"/>
<path d="M447.25 210.98L452.35 213.48L447.25 215.98Z" fill="#00ffff" stroke="#000000" stroke-width="0.80" stroke-linejoin="miter"/>
<path d="M458.73 210.98L463.83 213.48L458.73 215.98Z" fill="#00ffff" stroke="#000000" stroke-width="0.80" stroke-linejoin="miter"/>
<path d="M470.21 210.98L475.31 213.48L470.21 215.98Z" fill="#00ffff" stroke="#000000" stroke-width="0.80" stroke-linejoin="miter"/>
<path d="M481.69 210.98L486.79 213.48L481.69 215.98Z" fill="#00ffff" stroke="#000000" stroke-width="0.80" stroke-linejoin="miter"/>
<path d="M493.17 210.98L498.27 213.48L493.17 215.98Z" fill="#00ffff" stroke="#000000" stroke-width="0.80" stroke-linejoin="miter"/>
<path d="M504.65 210.98L509.75 213.48L504.65 215.98Z" fill="#00ffff" stroke="#000000" stroke-width="0.80" stroke-linejoin="miter"/>
<path d="M516.13 217.48L521.23 219.98L516.13 222.48Z" fill="#00ffff" stroke="#000000" stroke-width="0.80" stroke-linejoin="miter"/>
<path d="M527.61 217.48L532.71 219.98L527.61 222.48Z" fill="#00ffff" stroke="#000000" stroke-width="0.80" stroke-linejoin="miter"/>
<path d="M539.09 217.48L544.19 219.98L539.09 222.48Z" fill="#00ffff" stroke="#000000" stroke-width="0.80" stroke-linejoin="miter"/>
<path d="M550.57 217.48L555.67 219.98L550.57 222.48Z" fill="#00ffff" stroke="#000000" stroke-width="0.80" stroke-linejoin="miter"/>
<path d="M562.05 217.48L567.15 219.98L562.05 222.48Z" fill="#00ffff" stroke="#000000" stroke-width="0.80" stroke-linejoin="miter"/>
<path d="M573.53 217.48L578.63 219.98L573.53 222.48Z" fill="#00ffff" stroke="#000000" stroke-width="0.80" stroke-linejoin="miter"/>
<path d="M585.01 217.48L590.11 219.98L585.01 222.48Z" fill="#00ffff" stroke="#000000" stroke-width="0.80" stroke-linejoin="miter"/>
<path d="M596.49 217.48L601.59 219.98L596.49 222.48Z" fill="#00ffff" stroke="#000000" stroke-width="0.80" stroke-linejoin="miter"/>
<path d="M607.97 217.48L613.07 219.98L607.97 222.48Z" fill="#00ffff" stroke="#000000" stroke-width="0.80" stroke-linejoin="miter"/>
<path d="M619.45 217.48L624.55 219.98L619.45 222.48Z" fill="#00ffff" stroke="#000000" stroke-width="0.80" stroke-linejoin="miter"/>
<path d="M630.93 217.48L636.03 219.98L630.93 222.48Z" fill="#00ffff" stroke="#000000" stroke-width="0.80" stroke-linejoin="miter"/>
<path d="M642.41 217.48L647.51 219.98L642.41 222.48Z" fill="#00ffff" stroke="#000000" stroke-width="0.80" stroke-linejoin="miter"/>
<path d="M653.89 217.48L658.99 219.98L653.89 222.48Z" fill="#00ffff" stroke="#000000" stroke-width="0.80" stroke-linejoin="miter"/>
<path d="M665.37 217.48L670.47 219.98L665.37 222.48Z" fill="#00ffff" stroke="#000000" stroke-width="0.80" stroke-linejoin="miter"/>
</g></g>
<path d="M378.50 1.70V230.45H682.20V1.70" fill="none" stroke="#505050" stroke-width="1"/>
<path d="M378.00 1.70H682.70" fill="none" stroke="#8c8c8c" stroke-width="1.3"/>
<path d="M378.50 219.30h-3" stroke="#6a6a6a" stroke-width="1"/>
<text x="372.20" y="222.40" text-anchor="end" textLength="17.60" lengthAdjust="spacingAndGlyphs">1.05</text>
<path d="M378.50 193.07h-3" stroke="#6a6a6a" stroke-width="1"/>
<text x="372.20" y="196.17" text-anchor="end" textLength="17.60" lengthAdjust="spacingAndGlyphs">1.10</text>
<path d="M378.50 166.85h-3" stroke="#6a6a6a" stroke-width="1"/>
<text x="372.20" y="169.95" text-anchor="end" textLength="17.60" lengthAdjust="spacingAndGlyphs">1.15</text>
<path d="M378.50 140.62h-3" stroke="#6a6a6a" stroke-width="1"/>
<text x="372.20" y="143.72" text-anchor="end" textLength="17.60" lengthAdjust="spacingAndGlyphs">1.20</text>
<path d="M378.50 114.40h-3" stroke="#6a6a6a" stroke-width="1"/>
<text x="372.20" y="117.50" text-anchor="end" textLength="17.60" lengthAdjust="spacingAndGlyphs">1.25</text>
<path d="M378.50 88.17h-3" stroke="#6a6a6a" stroke-width="1"/>
<text x="372.20" y="91.27" text-anchor="end" textLength="17.60" lengthAdjust="spacingAndGlyphs">1.30</text>
<path d="M378.50 61.95h-3" stroke="#6a6a6a" stroke-width="1"/>
<text x="372.20" y="65.05" text-anchor="end" textLength="17.60" lengthAdjust="spacingAndGlyphs">1.35</text>
<path d="M378.50 35.73h-3" stroke="#6a6a6a" stroke-width="1"/>
<text x="372.20" y="38.83" text-anchor="end" textLength="17.60" lengthAdjust="spacingAndGlyphs">1.40</text>
<path d="M378.50 9.50h-3" stroke="#6a6a6a" stroke-width="1"/>
<text x="372.20" y="12.60" text-anchor="end" textLength="17.60" lengthAdjust="spacingAndGlyphs">1.45</text>
<path d="M392.40 230.45v3" stroke="#6a6a6a" stroke-width="1"/>
<text x="392.40" y="243.50" text-anchor="middle" textLength="4.70" lengthAdjust="spacingAndGlyphs">0</text>
<path d="M449.80 230.45v3" stroke="#6a6a6a" stroke-width="1"/>
<text x="449.80" y="243.50" text-anchor="middle" textLength="4.70" lengthAdjust="spacingAndGlyphs">5</text>
<path d="M507.20 230.45v3" stroke="#6a6a6a" stroke-width="1"/>
<text x="507.20" y="243.50" text-anchor="middle" textLength="9.60" lengthAdjust="spacingAndGlyphs">10</text>
<path d="M564.60 230.45v3" stroke="#6a6a6a" stroke-width="1"/>
<text x="564.60" y="243.50" text-anchor="middle" textLength="9.60" lengthAdjust="spacingAndGlyphs">15</text>
<path d="M622.00 230.45v3" stroke="#6a6a6a" stroke-width="1"/>
<text x="622.00" y="243.50" text-anchor="middle" textLength="9.60" lengthAdjust="spacingAndGlyphs">20</text>
<path d="M679.40 230.45v3" stroke="#6a6a6a" stroke-width="1"/>
<text x="679.40" y="243.50" text-anchor="middle" textLength="9.60" lengthAdjust="spacingAndGlyphs">25</text>
<text x="530.30" y="255.40" text-anchor="middle" textLength="63.60" lengthAdjust="spacingAndGlyphs">No. of Iteration</text>
<text transform="translate(347.90 117.20) rotate(-90)" text-anchor="middle" textLength="57.60" lengthAdjust="spacingAndGlyphs">Cost Function</text>
<text x="513.00" y="283.40" text-anchor="middle" style="font-family:'Liberation Serif',serif;font-size:16px" fill="#111">(b)</text>
<rect x="522.50" y="6.50" width="155.30" height="66.60" rx="1.6" fill="#fff" fill-opacity="0.8" stroke="#cfcfcf" stroke-width="0.9"/>
<path d="M524.20 12.70H543.50" stroke="#ff0000" stroke-width="2.65"/>
<path d="M531.81 10.70L535.89 12.70L531.81 14.70Z" fill="#0000ff" stroke="#ff0000" stroke-width="0.80" stroke-linejoin="miter"/>
<text x="550.30" y="15.80" textLength="104.25" lengthAdjust="spacingAndGlyphs">GWO-ACA-ATRUNet-MDN</text>
<path d="M524.20 25.80H543.50" stroke="#008000" stroke-width="2.65"/>
<path d="M531.30 23.30L536.40 25.80L531.30 28.30Z" fill="#ff0000" stroke="#008000" stroke-width="0.80" stroke-linejoin="miter"/>
<text x="550.30" y="28.90" textLength="99.75" lengthAdjust="spacingAndGlyphs">HBA-ACA-ATRUNet-MDN</text>
<path d="M524.20 39.00H543.50" stroke="#0000ff" stroke-width="2.65"/>
<path d="M531.30 36.50L536.40 39.00L531.30 41.50Z" fill="#008000" stroke="#0000ff" stroke-width="0.80" stroke-linejoin="miter"/>
<text x="550.30" y="42.10" textLength="99.75" lengthAdjust="spacingAndGlyphs">JAYA-ACA-ATRUNet-MDN</text>
<path d="M524.20 52.20H543.50" stroke="#bf00bf" stroke-width="2.65"/>
<path d="M531.30 49.70L536.40 52.20L531.30 54.70Z" fill="#ffff00" stroke="#bf00bf" stroke-width="0.80" stroke-linejoin="miter"/>
<text x="550.30" y="55.30" textLength="101.50" lengthAdjust="spacingAndGlyphs">EOO-ACA-ATRUNet-MDN</text>
<path d="M524.20 65.40H543.50" stroke="#000000" stroke-width="2.65"/>
<path d="M531.30 62.90L536.40 65.40L531.30 67.90Z" fill="#00ffff" stroke="#000000" stroke-width="0.80" stroke-linejoin="miter"/>
<text x="550.30" y="68.50" textLength="123.50" lengthAdjust="spacingAndGlyphs">MML-EOO-ACA-ATRUNet-MDN</text>
</g>
</svg>
</body></html>
